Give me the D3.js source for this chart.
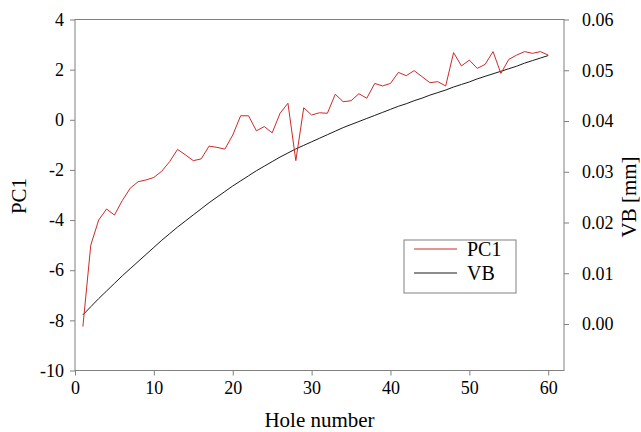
<!DOCTYPE html>
<html>
<head>
<meta charset="utf-8">
<script src="https://cdn.jsdelivr.net/npm/d3@7"></script>
<style>
  html, body { margin: 0; padding: 0; background: #fff; }
  svg { display: block; }
  svg text { font-family: "Liberation Serif", "Times New Roman", serif !important; fill: #000; }
</style>
</head>
<body>
<svg id="chart" width="641" height="432"></svg>
<script>
// Hole index 1..60
const holes = d3.range(1, 61);

// First principal component of the monitored signal, per hole
const pc1 = [
  -8.25, -5.00, -4.00, -3.56, -3.80, -3.22, -2.73, -2.47, -2.40, -2.30,
  -2.05, -1.67, -1.18, -1.40, -1.63, -1.56, -1.05, -1.10, -1.17, -0.61,
   0.16,  0.16, -0.44, -0.27, -0.52,  0.26,  0.66, -1.63,  0.48,  0.19,
   0.28,  0.26,  1.02,  0.72,  0.76,  1.04,  0.86,  1.45,  1.35,  1.45,
   1.89,  1.76,  1.96,  1.72,  1.48,  1.52,  1.35,  2.68,  2.15,  2.38,
   2.05,  2.21,  2.72,  1.85,  2.41,  2.58,  2.72,  2.65,  2.72,  2.58
];

// Flank wear VB [mm], per hole
const vb = [
  0.0018, 0.0034, 0.0050, 0.0065, 0.0080, 0.0095, 0.0109, 0.0123, 0.0137, 0.0151,
  0.0165, 0.0178, 0.0191, 0.0203, 0.0215, 0.0227, 0.0239, 0.0250, 0.0261, 0.0272,
  0.0282, 0.0292, 0.0302, 0.0311, 0.0320, 0.0329, 0.0337, 0.0345, 0.0352, 0.0359,
  0.0366, 0.0373, 0.0380, 0.0387, 0.0393, 0.0399, 0.0405, 0.0411, 0.0417, 0.0423,
  0.0429, 0.0434, 0.0440, 0.0445, 0.0451, 0.0456, 0.0461, 0.0467, 0.0472, 0.0477,
  0.0483, 0.0488, 0.0493, 0.0498, 0.0503, 0.0508, 0.0514, 0.0519, 0.0524, 0.0529
];

// Axis ticks
const xTicks = [0, 10, 20, 30, 40, 50, 60];
const pcTicks = [-10, -8, -6, -4, -2, 0, 2, 4];
const vbTicks = [0.00, 0.01, 0.02, 0.03, 0.04, 0.05, 0.06];

const xDomain = [0, 62];
const pcDomain = [-10, 4];
const vbDomain = [-0.00916, 0.06];

const width = 641, height = 432;
const margin = { top: 19.5, right: 77, bottom: 61.5, left: 75 };
const iw = width - margin.left - margin.right;
const ih = height - margin.top - margin.bottom;

const serif = "'Liberation Serif', 'Times New Roman', serif";
const frameColor = "#808080";
const redColor = "#cc2a2a";
const blackColor = "#1a1a1a";

const svg = d3.select("#chart").style("font-family", serif);
const g = svg.append("g").attr("transform", `translate(${margin.left},${margin.top})`);

const x = d3.scaleLinear().domain(xDomain).range([0, iw]);
const yPc = d3.scaleLinear().domain(pcDomain).range([ih, 0]);
const yVb = d3.scaleLinear().domain(vbDomain).range([ih, 0]);

// Plot frame
g.append("rect")
  .attr("x", 0).attr("y", 0).attr("width", iw).attr("height", ih)
  .attr("fill", "none").attr("stroke", frameColor).attr("stroke-width", 1);

function styleAxis(sel) {
  sel.attr("font-family", serif).style("font-family", serif).attr("font-size", 18);
  sel.select(".domain").remove();
  sel.selectAll(".tick line").attr("stroke", frameColor).attr("stroke-width", 1);
  sel.selectAll(".tick text")
    .attr("fill", "#000")
    .style("font-family", serif)
    .style("font-size", "18px");
}

g.append("g")
  .attr("transform", `translate(0,${ih})`)
  .call(d3.axisBottom(x).tickValues(xTicks).tickSize(5).tickPadding(6).tickFormat(d3.format("d")))
  .call(styleAxis);

g.append("g")
  .call(d3.axisLeft(yPc).tickValues(pcTicks).tickSize(5).tickPadding(6)
    .tickFormat(d => d < 0 ? "-" + Math.abs(d) : String(d)))
  .call(styleAxis);

g.append("g")
  .attr("transform", `translate(${iw},0)`)
  .call(d3.axisRight(yVb).tickValues(vbTicks).tickSize(5).tickPadding(13).tickFormat(d3.format(".2f")))
  .call(styleAxis);

// Series lines
const pcLine = d3.line().x((d, i) => x(holes[i])).y(d => yPc(d));
const vbLine = d3.line().x((d, i) => x(holes[i])).y(d => yVb(d)).curve(d3.curveMonotoneX);

g.append("path").datum(vb)
  .attr("d", vbLine).attr("fill", "none")
  .attr("stroke", blackColor).attr("stroke-width", 1);

g.append("path").datum(pc1)
  .attr("d", pcLine).attr("fill", "none")
  .attr("stroke", redColor).attr("stroke-width", 1).attr("stroke-linejoin", "round");

// Axis titles
svg.append("text")
  .attr("x", margin.left + iw / 2).attr("y", 427)
  .attr("text-anchor", "middle").style("font-size", "21px")
  .text("Hole number");

svg.append("text")
  .attr("transform", `translate(26,196) rotate(-90)`)
  .attr("text-anchor", "middle").style("font-size", "21px")
  .text("PC1");

svg.append("text")
  .attr("transform", `translate(636,197) rotate(-90)`)
  .attr("text-anchor", "middle").style("font-size", "21px")
  .text("VB [mm]");

// Legend
const legend = svg.append("g").attr("transform", "translate(404,240)");
legend.append("rect")
  .attr("x", 0).attr("y", 0).attr("width", 112).attr("height", 53)
  .attr("fill", "#fff").attr("stroke", frameColor).attr("stroke-width", 1);

const legendItems = [
  { label: "PC1", color: redColor },
  { label: "VB", color: blackColor }
];
legendItems.forEach((item, i) => {
  const ly = 9 + i * 24;
  legend.append("line")
    .attr("x1", 10).attr("x2", 53).attr("y1", ly).attr("y2", ly)
    .attr("stroke", item.color).attr("stroke-width", 1);
  legend.append("text")
    .attr("x", 63).attr("y", ly).attr("dy", "0.35em")
    .style("font-size", "20px")
    .text(item.label);
});
</script>
</body>
</html>
